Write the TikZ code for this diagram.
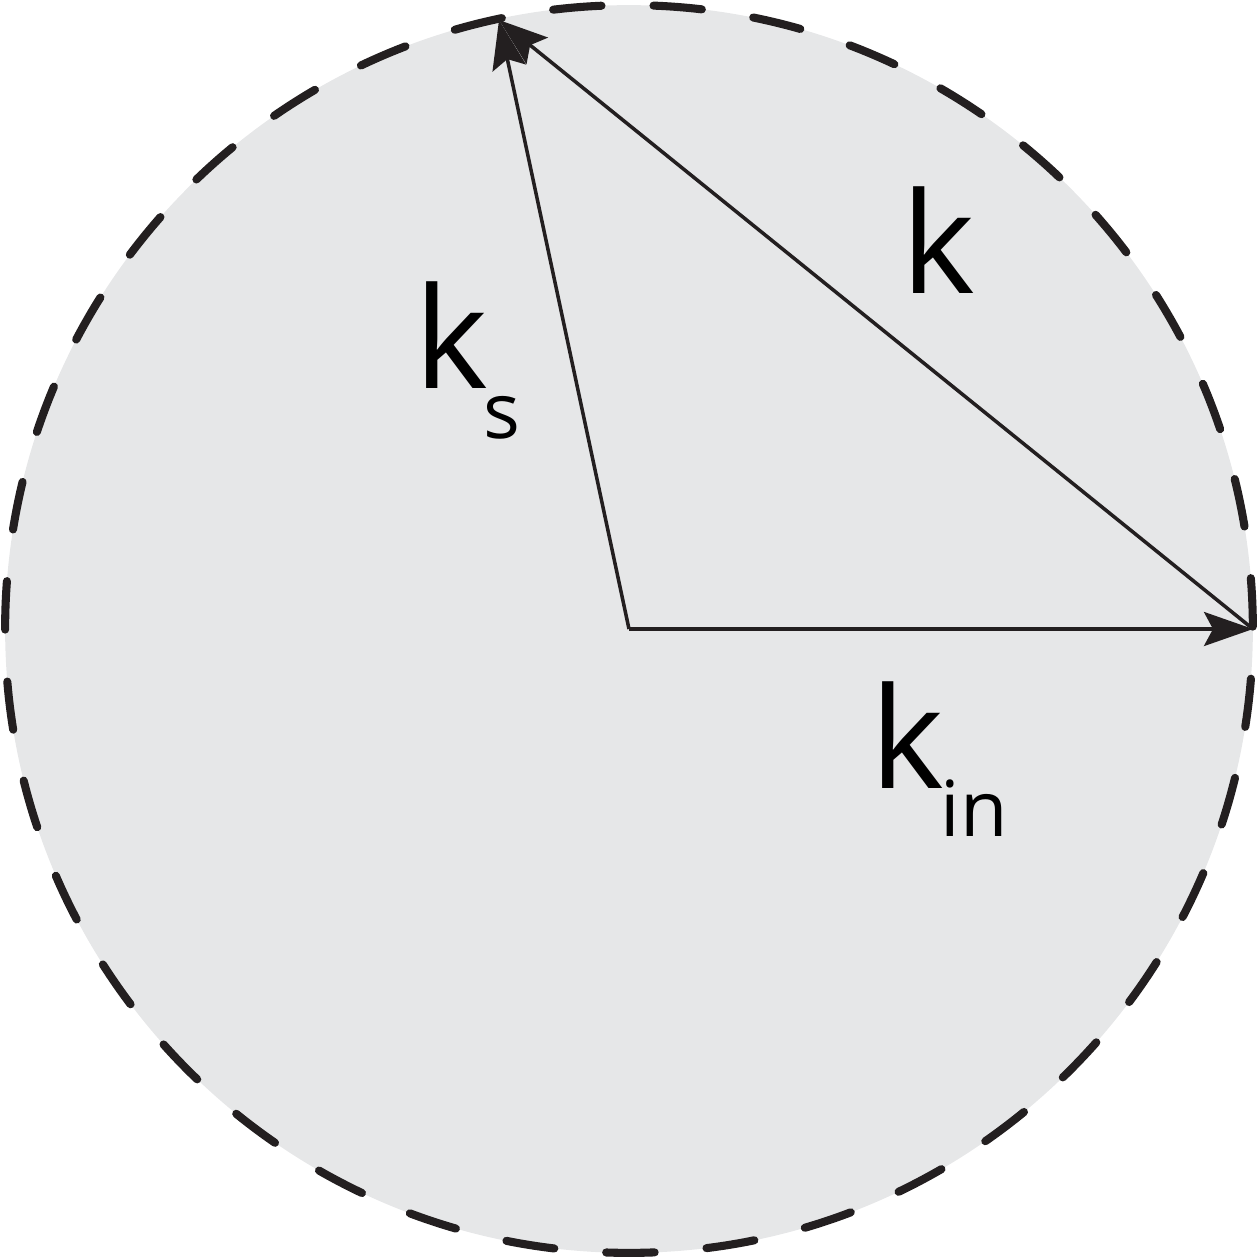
\documentclass[tikz,border=0pt]{standalone}
\usepackage{fontspec}
\setmainfont{Open Sans}
\usetikzlibrary{arrows.meta}
\definecolor{disc}{HTML}{E6E7E8}
\definecolor{ink}{HTML}{231F20}
\tikzset{
  vec/.style={draw=ink, line width=2pt, -{Stealth[length=0.98cm, width=0.68cm, inset=0.18cm]}},
  big/.style={inner sep=0pt, anchor=base, text=black, font=\fontsize{80}{96}\selectfont},
  sub/.style={inner sep=0pt, anchor=base, text=black, font=\fontsize{44}{52}\selectfont},
}
\begin{document}
\begin{tikzpicture}[x=0.02cm, y=-0.02cm]
\useasboundingbox (0,0) rectangle (1259,1259);
\coordinate (O) at (629,629);
\coordinate (A) at (1253,629);
\coordinate (B) at (499,20);
\fill[disc] (O) circle[radius=12.48cm];
\draw[ink, line width=4.6pt, line cap=round, dash pattern=on 0.97cm off 1.0408cm, dash phase=1.962cm] (O) circle[radius=12.48cm];
\draw[vec] (O) -- (A);
\draw[vec] (O) -- (B);
\draw[vec] (A) -- (B);
\node[big] (kl) at (938,293) {k};
\node[big] (ksk) at (451,388) {k};
\node[sub] (kss) at (502,438) {s};
\node[big] (kink) at (907,788) {k};
\node[sub] (kinsub) at (974,836) {in};
\end{tikzpicture}
\end{document}
